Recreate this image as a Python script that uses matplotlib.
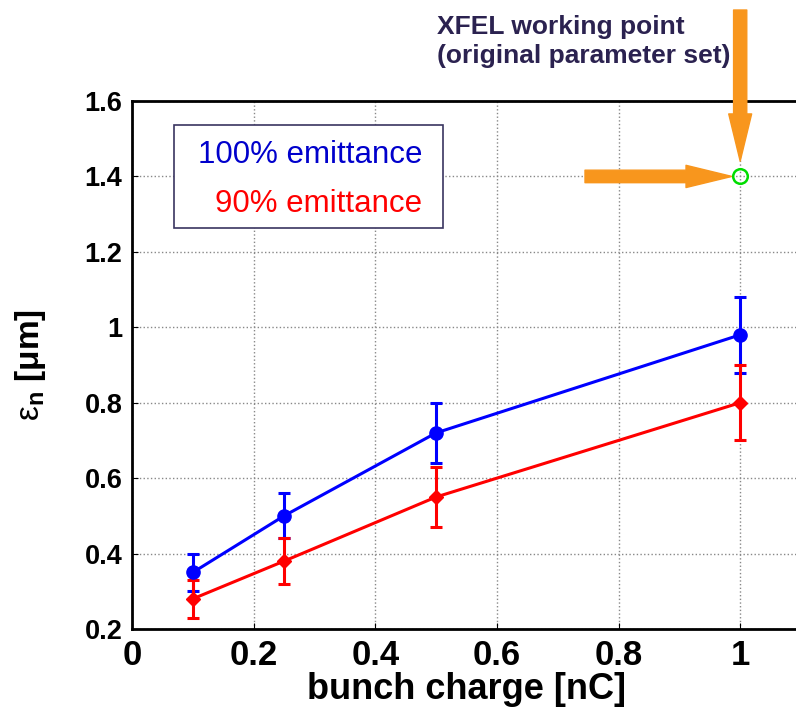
import matplotlib
matplotlib.use('Agg')
import matplotlib.pyplot as plt
from matplotlib.patches import Rectangle

plt.rcParams['font.family'] = ['Liberation Sans', 'DejaVu Sans']
plt.rcParams['mathtext.fontset'] = 'custom'
plt.rcParams['mathtext.rm'] = 'Liberation Sans'
plt.rcParams['mathtext.bf'] = 'Liberation Sans:bold'
plt.rcParams['mathtext.it'] = 'Liberation Sans:italic'

#%% data
charge = [0.1, 0.25, 0.5, 1.0]
emit_100 = [0.35, 0.50, 0.72, 0.98]
emit_100_lo = [0.30, 0.44, 0.64, 0.88]
emit_100_hi = [0.40, 0.56, 0.80, 1.08]
emit_90 = [0.28, 0.38, 0.55, 0.80]
emit_90_lo = [0.23, 0.32, 0.47, 0.70]
emit_90_hi = [0.33, 0.44, 0.63, 0.90]
wp_x, wp_y = 1.0, 1.4
xticks = [0, 0.2, 0.4, 0.6, 0.8, 1]
yticks = [0.2, 0.4, 0.6, 0.8, 1.0, 1.2, 1.4, 1.6]

#%% figure
W, H = 796, 712
fig = plt.figure(figsize=(W / 100, H / 100), dpi=100)
ax = fig.add_axes([132 / W, 1 - 629 / H, (801 - 132) / W, (629 - 101) / H])

err100 = [[m - l for m, l in zip(emit_100, emit_100_lo)], [h - m for m, h in zip(emit_100, emit_100_hi)]]
err90 = [[m - l for m, l in zip(emit_90, emit_90_lo)], [h - m for m, h in zip(emit_90, emit_90_hi)]]
ax.errorbar(charge, emit_100, yerr=err100, color='#0000ff', lw=2.2, marker='o', ms=9.5,
            capsize=4.5, capthick=2.2, elinewidth=2.2, zorder=4)
ax.errorbar(charge, emit_90, yerr=err90, color='#ff0000', lw=2.2, marker='D', ms=7.5,
            capsize=4.5, capthick=2.2, elinewidth=2.2, zorder=4)
ax.plot([wp_x], [wp_y], 'o', mfc='none', mec='#00dd00', mew=1.8, ms=10.5, zorder=5)

ax.set_xlim(0, 1.1)
ax.set_ylim(0.2, 1.6)
ax.set_xticks(xticks)
ax.set_xticklabels(['0', '0.2', '0.4', '0.6', '0.8', '1'])
ax.set_yticks(yticks)
ax.set_yticklabels(['0.2', '0.4', '0.6', '0.8', '1', '1.2', '1.4', '1.6'])
ax.tick_params(direction='in', length=4, width=0.8)
ax.tick_params(axis='x', labelsize=25, pad=7)
ax.tick_params(axis='y', labelsize=19.5, pad=7)
for lab in ax.get_xticklabels() + ax.get_yticklabels():
    lab.set_fontweight('bold')
ax.grid(True, color='#888888', ls=':', lw=1.0)
for s in ax.spines.values():
    s.set_linewidth(2)
ax.spines['right'].set_visible(False)

ax.set_xlabel('bunch charge [nC]', fontsize=26, fontweight='bold', labelpad=0)
ax.set_ylabel(r'$\mathrm{ε}_{\mathbf{n}}$ [μm]', fontsize=24, fontweight='bold', labelpad=26)

# legend box
fig.patches.append(Rectangle((174, H - 228), 269, 103, transform=None, fill=True,
                             facecolor='white', edgecolor='#3a3560', lw=1.2, zorder=6))
fig.text(422 / W, 1 - 163 / H, '100% emittance', color='#0000cc', fontsize=22.5,
         ha='right', va='baseline', zorder=7)
fig.text(422 / W, 1 - 212 / H, '90% emittance', color='#ff0000', fontsize=22.5,
         ha='right', va='baseline', zorder=7)

# working point annotation
fig.text(437 / W, 1 - 63 / H, 'XFEL working point\n(original parameter set)', color='#2b2250',
         fontsize=19, fontweight='bold', ha='left', va='baseline', linespacing=1.27)
orange = '#f8961d'
ax.annotate('', xy=(wp_x, wp_y), xytext=(wp_x, 1 - 10 / H),
            textcoords=('data', 'figure fraction'), annotation_clip=False,
            arrowprops=dict(arrowstyle='simple,head_width=1.65,head_length=3.4,tail_width=0.95',
                            mutation_scale=10, color=orange, shrinkA=0, shrinkB=11))
ax.annotate('', xy=(wp_x, wp_y), xytext=(585 / W, wp_y),
            textcoords=('figure fraction', 'data'), annotation_clip=False,
            arrowprops=dict(arrowstyle='simple,head_width=1.6,head_length=3.3,tail_width=0.9',
                            mutation_scale=10, color=orange, shrinkA=0, shrinkB=6))

fig.savefig('out.png', dpi=100)
